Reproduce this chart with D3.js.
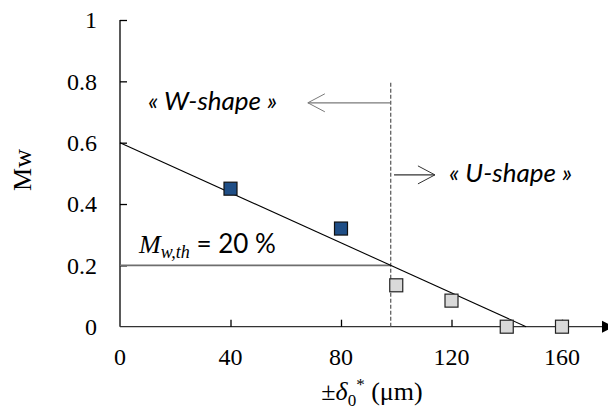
<!DOCTYPE html>
<html>
<head>
<meta charset="utf-8">
<script src="https://cdn.jsdelivr.net/npm/d3@7/dist/d3.min.js"></script>
<style>
  html, body { margin: 0; padding: 0; background: #fff; }
  svg { display: block; }
</style>
</head>
<body>
<script>
// ---- data ----
const xTicks = [0, 40, 80, 120, 160];
const yTicks = [0, 0.2, 0.4, 0.6, 0.8, 1];
const yTickLabels = ["0", "0.2", "0.4", "0.6", "0.8", "1"];
const wShapeX = [40, 80];
const wShapeY = [0.45, 0.32];
const uShapeX = [100, 120, 140, 160];
const uShapeY = [0.135, 0.085, 0, 0];
const fitX = [0, 147];
const fitY = [0.6, 0];
const thresholdValue = 0.2;
const thresholdX = 98;
const thresholdLabel = "= 20 %";
const wLabel = "« W-shape »";
const uLabel = "« U-shape »";
const yLabel = "Mw";

const W = 608, H = 414;
const svg = d3.select("body").append("svg").attr("width", W).attr("height", H);

const x = d3.scaleLinear().domain([0, 160]).range([120, 562]);
const y = d3.scaleLinear().domain([0, 1]).range([326.7, 20]);

const serif = "'Liberation Serif', 'DejaVu Serif', serif";
const sans = "Lato, 'Open Sans', 'Liberation Sans', sans-serif";

// y axis
const yAxis = d3.axisRight(y).tickValues(yTicks.slice(1)).tickSize(7).tickFormat("");
const gy = svg.append("g").attr("transform", `translate(${x(0)},0)`).call(yAxis);
gy.select(".domain").attr("d", `M0,${y(1)}V${y(0)}`).attr("stroke", "#000").attr("stroke-width", 1.3);
gy.selectAll(".tick line").attr("stroke", "#000").attr("stroke-width", 1.3);

// y tick labels
svg.append("g").selectAll("text").data(yTicks).join("text")
  .attr("x", 97).attr("y", d => y(d)).attr("dy", "0.35em")
  .attr("text-anchor", "end")
  .style("font-family", serif).style("font-size", "24px").attr("fill", "#000")
  .text((d, i) => yTickLabels[i]);

// x axis
const xEnd = x(180);
const xAxis = d3.axisTop(x).tickValues(xTicks.slice(1)).tickSize(7).tickFormat("");
const gx = svg.append("g").attr("transform", `translate(0,${y(0)})`).call(xAxis);
gx.select(".domain").attr("d", `M${x(0)},0H${xEnd}`).attr("stroke", "#333").attr("stroke-width", 1.3);
gx.selectAll(".tick line").attr("stroke", "#000").attr("stroke-width", 1.3);
// arrow head at end of x axis
svg.append("path")
  .attr("d", `M${602},${y(0) - 6}L${614},${y(0)}L${602},${y(0) + 6}Z`)
  .attr("fill", "#000");

svg.append("g").selectAll("text").data(xTicks).join("text")
  .attr("x", d => x(d)).attr("y", 357).attr("dy", "0.35em")
  .attr("text-anchor", "middle")
  .style("font-family", serif).style("font-size", "24px").attr("fill", "#000")
  .text(d => d);

// y label
svg.append("text")
  .attr("transform", `translate(22,170) rotate(-90)`)
  .attr("text-anchor", "middle").attr("dy", "0.35em")
  .style("font-family", serif).style("font-size", "26px")
  .text(yLabel);

// x label
const xl = svg.append("text")
  .attr("x", 372).attr("y", 400).attr("text-anchor", "middle")
  .style("font-family", serif).style("font-size", "26px");
xl.append("tspan").text("±");
xl.append("tspan").style("font-style", "italic").text("δ");
xl.append("tspan").attr("dy", 6).style("font-size", "17px").text("0");
xl.append("tspan").attr("dy", -16).style("font-size", "17px").text("*");
xl.append("tspan").attr("dy", 10).text(" (μm)");

// threshold horizontal line
svg.append("line")
  .attr("x1", x(0)).attr("x2", x(thresholdX))
  .attr("y1", y(thresholdValue)).attr("y2", y(thresholdValue))
  .attr("stroke", "#6e6e6e").attr("stroke-width", 1.6);

// dashed vertical line
svg.append("line")
  .attr("x1", x(thresholdX)).attr("x2", x(thresholdX))
  .attr("y1", y(0.795)).attr("y2", y(0))
  .attr("stroke", "#555").attr("stroke-width", 1.2)
  .attr("stroke-dasharray", "4,2");

// fit line
svg.append("line")
  .attr("x1", x(fitX[0])).attr("y1", y(fitY[0]))
  .attr("x2", x(fitX[1])).attr("y2", y(fitY[1]))
  .attr("stroke", "#000").attr("stroke-width", 1.1);

// points
const sz = 13;
svg.append("g").selectAll("rect").data(uShapeX.map((v, i) => [v, uShapeY[i]])).join("rect")
  .attr("x", d => x(d[0]) - sz / 2).attr("y", d => y(d[1]) - sz / 2)
  .attr("width", sz).attr("height", sz)
  .attr("fill", "#d9d9d9").attr("stroke", "#222").attr("stroke-width", 1.2);
svg.append("g").selectAll("rect").data(wShapeX.map((v, i) => [v, wShapeY[i]])).join("rect")
  .attr("x", d => x(d[0]) - sz / 2).attr("y", d => y(d[1]) - sz / 2)
  .attr("width", sz).attr("height", sz)
  .attr("fill", "#1f4e86").attr("stroke", "#111").attr("stroke-width", 1.2);

// arrows
function openArrow(x1, yv, x2, color) {
  const px1 = x(x1), px2 = x(x2), py = y(yv);
  const dir = px2 > px1 ? -1 : 1;
  svg.append("line").attr("x1", px1).attr("x2", px2).attr("y1", py).attr("y2", py)
    .attr("stroke", color).attr("stroke-width", 1.3);
  svg.append("path")
    .attr("d", `M${px2 + dir * 17},${py - 9}L${px2},${py}L${px2 + dir * 17},${py + 9}`)
    .attr("fill", "none").attr("stroke", color).attr("stroke-width", 1);
}
openArrow(thresholdX - 0.2, 0.73, 68, "#7a7a7a");
openArrow(thresholdX + 1.2, 0.495, 114, "#333");

// annotation texts
svg.append("text").attr("x", 148).attr("y", 110)
  .style("font-family", sans).style("font-style", "italic").style("font-size", "26px")
  .text(wLabel);
svg.append("text").attr("x", 449).attr("y", 182)
  .style("font-family", sans).style("font-style", "italic").style("font-size", "26px")
  .text(uLabel);

// threshold label
const tl = svg.append("text").attr("x", 139).attr("y", 253)
  .style("font-size", "26px");
tl.append("tspan").style("font-family", serif).style("font-style", "italic").text("M");
tl.append("tspan").attr("dy", 5).style("font-family", serif).style("font-style", "italic")
  .style("font-size", "18px").text("w,th");
tl.append("tspan").attr("dy", -5).style("font-family", sans).text(" " + thresholdLabel);
</script>
</body>
</html>
